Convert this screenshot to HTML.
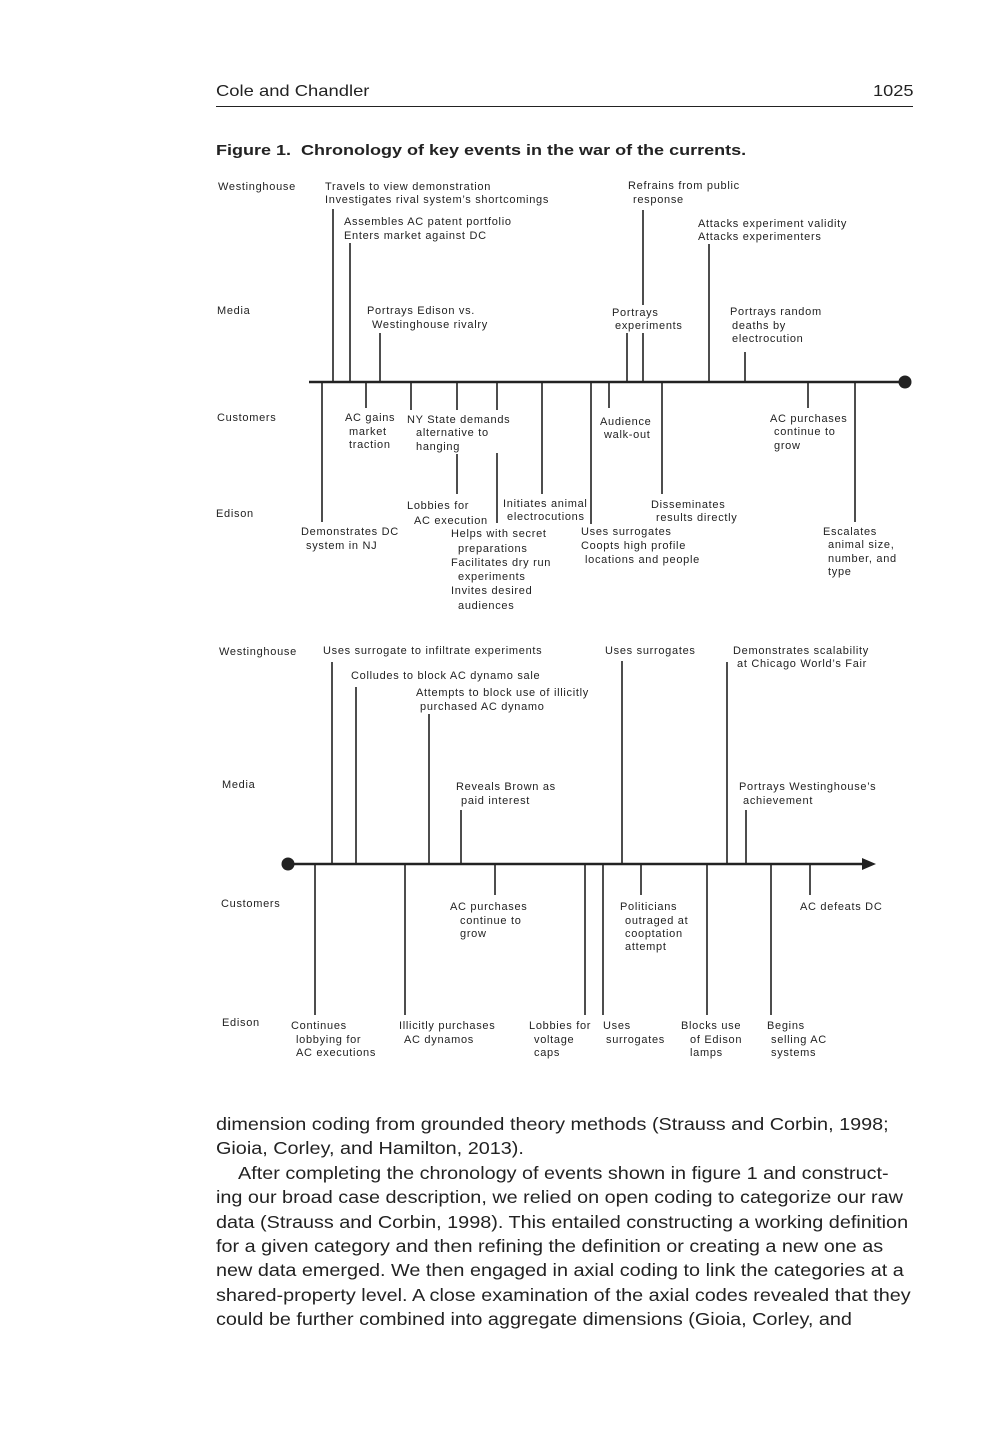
<!DOCTYPE html>
<html><head><meta charset="utf-8">
<style>
html,body{margin:0;padding:0;background:#fff;}
body{width:1008px;height:1440px;position:relative;overflow:hidden;font-family:"Liberation Sans",Arial,sans-serif;color:#222;}
.hdr{position:absolute;top:83px;font-size:16px;transform-origin:left top;}
.rule{position:absolute;left:216px;top:106px;width:697px;height:1px;background:#222;}
.cap{position:absolute;left:216px;top:142px;font-size:15px;font-weight:bold;transform:scaleX(1.2);transform-origin:left top;white-space:nowrap;}
.body{position:absolute;left:216px;top:1112px;width:700px;font-size:17.3px;line-height:24.4px;transform:scaleX(1.146);transform-origin:left top;white-space:nowrap;}
svg{position:absolute;left:0;top:0;}
svg text{font-family:"Liberation Sans",Arial,sans-serif;font-size:11px;fill:#222;letter-spacing:0.7px;}
</style></head><body>
<div class="hdr" style="left:216px;transform:scaleX(1.15)">Cole and Chandler</div>
<div class="hdr" style="left:873px;transform:scaleX(1.14)">1025</div>
<div class="rule"></div>
<div class="cap">Figure 1.&nbsp; Chronology of key events in the war of the currents.</div>

<svg width="1008" height="1100" viewBox="0 0 1008 1100">
<g stroke="#222" stroke-width="1.6" fill="none">
<line x1="309" y1="382" x2="905" y2="382" stroke-width="2.4"/>
<line x1="333" y1="209" x2="333" y2="382"/>
<line x1="350" y1="243" x2="350" y2="382"/>
<line x1="380" y1="333" x2="380" y2="382"/>
<line x1="627" y1="333" x2="627" y2="382"/>
<line x1="643" y1="210" x2="643" y2="305"/>
<line x1="643" y1="333" x2="643" y2="382"/>
<line x1="709" y1="244" x2="709" y2="382"/>
<line x1="745" y1="352" x2="745" y2="382"/>
<line x1="322" y1="382" x2="322" y2="522"/>
<line x1="366" y1="382" x2="366" y2="408"/>
<line x1="411" y1="382" x2="411" y2="410"/>
<line x1="457" y1="382" x2="457" y2="410"/>
<line x1="457" y1="454" x2="457" y2="494"/>
<line x1="497" y1="382" x2="497" y2="410"/>
<line x1="497" y1="453" x2="497" y2="523"/>
<line x1="542" y1="382" x2="542" y2="494"/>
<line x1="591" y1="382" x2="591" y2="524"/>
<line x1="609" y1="382" x2="609" y2="408"/>
<line x1="662" y1="382" x2="662" y2="494"/>
<line x1="808" y1="382" x2="808" y2="408"/>
<line x1="855" y1="382" x2="855" y2="522"/>

<line x1="288" y1="864" x2="866" y2="864" stroke-width="2.4"/>
<line x1="332" y1="662" x2="332" y2="864"/>
<line x1="356" y1="687" x2="356" y2="864"/>
<line x1="429" y1="714" x2="429" y2="864"/>
<line x1="461" y1="810" x2="461" y2="864"/>
<line x1="622" y1="661" x2="622" y2="864"/>
<line x1="727" y1="662" x2="727" y2="864"/>
<line x1="746" y1="810" x2="746" y2="864"/>
<line x1="315" y1="864" x2="315" y2="1015"/>
<line x1="405" y1="864" x2="405" y2="1015"/>
<line x1="495" y1="864" x2="495" y2="895"/>
<line x1="585" y1="864" x2="585" y2="1015"/>
<line x1="603" y1="864" x2="603" y2="1015"/>
<line x1="641" y1="864" x2="641" y2="895"/>
<line x1="707" y1="864" x2="707" y2="1015"/>
<line x1="771" y1="864" x2="771" y2="1015"/>
<line x1="810" y1="864" x2="810" y2="895"/>
</g>
<circle cx="905" cy="382" r="6.5" fill="#222"/>
<circle cx="288" cy="864" r="6.5" fill="#222"/>
<polygon points="862,858 876,864 862,870" fill="#222"/>

<text x="218" y="190">Westinghouse</text>
<text x="217" y="314">Media</text>
<text x="217" y="421">Customers</text>
<text x="216" y="517">Edison</text>

<text x="325" y="190">Travels to view demonstration</text>
<text x="325" y="203">Investigates rival system’s shortcomings</text>
<text x="344" y="225">Assembles AC patent portfolio</text>
<text x="344" y="239">Enters market against DC</text>
<text x="367" y="314">Portrays Edison vs.</text>
<text x="372" y="328">Westinghouse rivalry</text>
<text x="628" y="189">Refrains from public</text>
<text x="633" y="203">response</text>
<text x="698" y="227">Attacks experiment validity</text>
<text x="698" y="240">Attacks experimenters</text>
<text x="612" y="316">Portrays</text>
<text x="615" y="329">experiments</text>
<text x="730" y="315">Portrays random</text>
<text x="732" y="329">deaths by</text>
<text x="732" y="342">electrocution</text>

<text x="345" y="421">AC gains</text>
<text x="349" y="435">market</text>
<text x="349" y="448">traction</text>
<text x="407" y="423">NY State demands</text>
<text x="416" y="436">alternative to</text>
<text x="416" y="450">hanging</text>
<text x="600" y="425">Audience</text>
<text x="604" y="438">walk-out</text>
<text x="770" y="422">AC purchases</text>
<text x="774" y="435">continue to</text>
<text x="774" y="449">grow</text>

<text x="407" y="509">Lobbies for</text>
<text x="414" y="524">AC execution</text>
<text x="503" y="507">Initiates animal</text>
<text x="507" y="520">electrocutions</text>
<text x="651" y="508">Disseminates</text>
<text x="656" y="521">results directly</text>
<text x="301" y="535">Demonstrates DC</text>
<text x="306" y="549">system in NJ</text>
<text x="451" y="537">Helps with secret</text>
<text x="458" y="552">preparations</text>
<text x="451" y="566">Facilitates dry run</text>
<text x="458" y="580">experiments</text>
<text x="451" y="594">Invites desired</text>
<text x="458" y="609">audiences</text>
<text x="581" y="535">Uses surrogates</text>
<text x="581" y="549">Coopts high profile</text>
<text x="585" y="563">locations and people</text>
<text x="823" y="535">Escalates</text>
<text x="828" y="548">animal size,</text>
<text x="828" y="562">number, and</text>
<text x="828" y="575">type</text>

<text x="219" y="655">Westinghouse</text>
<text x="222" y="788">Media</text>
<text x="221" y="907">Customers</text>
<text x="222" y="1026">Edison</text>

<text x="323" y="654">Uses surrogate to infiltrate experiments</text>
<text x="351" y="679">Colludes to block AC dynamo sale</text>
<text x="416" y="696">Attempts to block use of illicitly</text>
<text x="420" y="710">purchased AC dynamo</text>
<text x="456" y="790">Reveals Brown as</text>
<text x="461" y="804">paid interest</text>
<text x="605" y="654">Uses surrogates</text>
<text x="733" y="654">Demonstrates scalability</text>
<text x="737" y="667">at Chicago World’s Fair</text>
<text x="739" y="790">Portrays Westinghouse’s</text>
<text x="743" y="804">achievement</text>

<text x="450" y="910">AC purchases</text>
<text x="460" y="924">continue to</text>
<text x="460" y="937">grow</text>
<text x="620" y="910">Politicians</text>
<text x="625" y="924">outraged at</text>
<text x="625" y="937">cooptation</text>
<text x="625" y="950">attempt</text>
<text x="800" y="910">AC defeats DC</text>

<text x="291" y="1029">Continues</text>
<text x="296" y="1043">lobbying for</text>
<text x="296" y="1056">AC executions</text>
<text x="399" y="1029">Illicitly purchases</text>
<text x="404" y="1043">AC dynamos</text>
<text x="529" y="1029">Lobbies for</text>
<text x="534" y="1043">voltage</text>
<text x="534" y="1056">caps</text>
<text x="603" y="1029">Uses</text>
<text x="606" y="1043">surrogates</text>
<text x="681" y="1029">Blocks use</text>
<text x="690" y="1043">of Edison</text>
<text x="690" y="1056">lamps</text>
<text x="767" y="1029">Begins</text>
<text x="771" y="1043">selling AC</text>
<text x="771" y="1056">systems</text>
</svg>

<div class="body">dimension coding from grounded theory methods (Strauss and Corbin, 1998;<br>Gioia, Corley, and Hamilton, 2013).<br>&nbsp;&nbsp;&nbsp;&nbsp;After completing the chronology of events shown in figure 1 and construct-<br>ing our broad case description, we relied on open coding to categorize our raw<br>data (Strauss and Corbin, 1998). This entailed constructing a working definition<br>for a given category and then refining the definition or creating a new one as<br>new data emerged. We then engaged in axial coding to link the categories at a<br>shared-property level. A close examination of the axial codes revealed that they<br>could be further combined into aggregate dimensions (Gioia, Corley, and</div>
</body></html>
